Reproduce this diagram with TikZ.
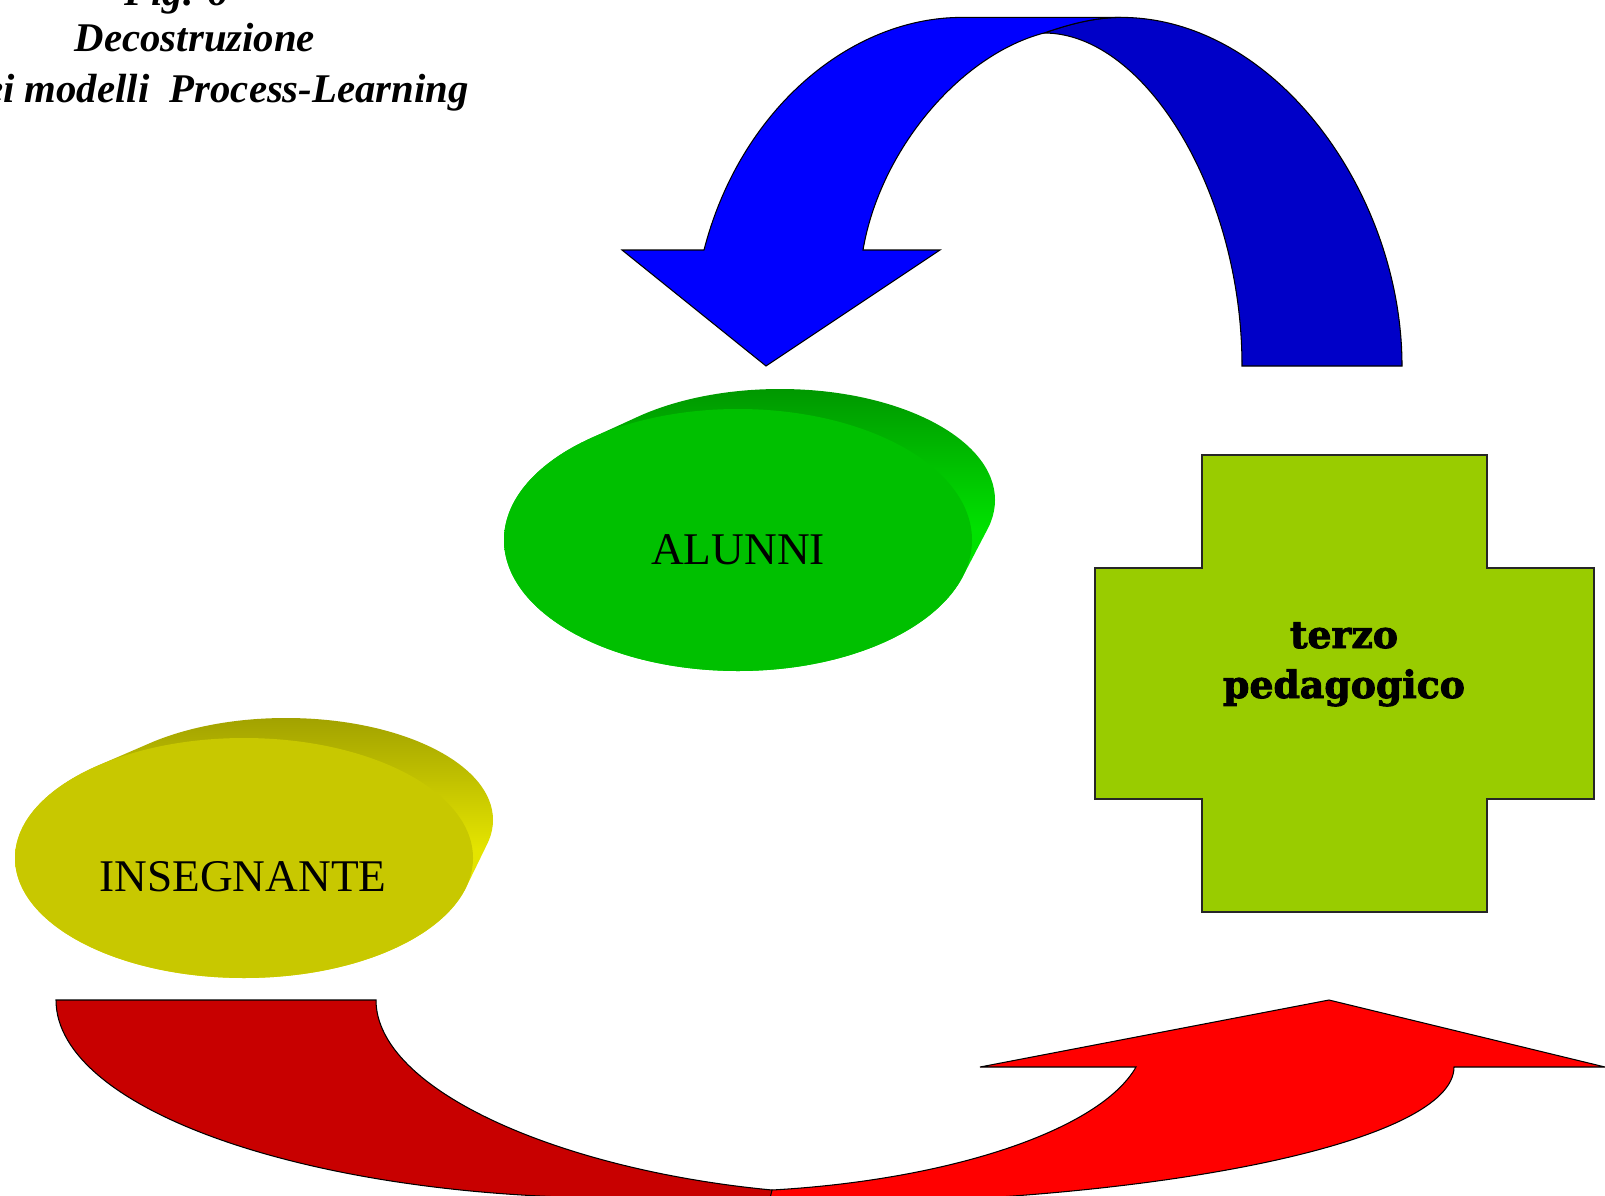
\documentclass[tikz,border=0pt]{standalone}
\usepackage{fontspec}
\setmainfont{Liberation Serif}
\newfontfamily\crossfont{DejaVu Serif}[BoldFont={DejaVu Serif Bold},BoldFeatures={FakeBold=2.5}]
\definecolor{bluebright}{RGB}{0,0,255}
\definecolor{bluedark}{RGB}{0,0,200}
\definecolor{redbright}{RGB}{255,0,0}
\definecolor{reddark}{RGB}{200,0,0}
\definecolor{crossgreen}{RGB}{153,204,0}
\definecolor{alunnifront}{RGB}{0,192,0}
\definecolor{alunnidark}{RGB}{0,150,0}
\definecolor{alunnilight}{RGB}{0,226,0}
\definecolor{insfront}{RGB}{200,200,0}
\definecolor{insdark}{RGB}{160,160,0}
\definecolor{inslight}{RGB}{228,228,0}
\begin{document}
\begin{tikzpicture}[x=0.02cm,y=-0.02cm,
  band/.style={draw=black,line width=0.6pt,line join=miter},
  crossbox/.style={fill=crossgreen,draw=black!85,line width=0.9pt},
  titletext/.style={font=\fontsize{23.2}{28}\selectfont\bfseries\itshape,inner sep=0pt},
  disclabel/.style={font=\fontsize{25.8}{30}\selectfont,inner sep=0pt},
  crosslabel/.style={font=\crossfont\bfseries\fontsize{21.5}{28}\selectfont,inner sep=0pt}]
\useasboundingbox (0,0) rectangle (1605,1196);
\clip (0,0) rectangle (1605,1196);
\fill[white] (0,0) rectangle (1605,1196);

% title
\node[titletext,anchor=base] (fig) at (176,6) {Fig. 6};
\node[titletext,anchor=base] (decos) at (195,52) {Decostruzione};
\node[titletext,anchor=base east] (modelli) at (469,103) {dei modelli~~Process-Learning};

% blue curved arrow
\draw[band,fill=bluedark] (1121,17.4) .. controls (1274,17.4) and (1402,192) .. (1402,366)
  -- (1242,366) .. controls (1242,192) and (1145,33) .. (1044,33)
  .. controls (1070,24) and (1095,17.4) .. (1121,17.4) -- cycle;
\draw[band,fill=bluebright] (962,17.4) -- (1121,17.4) .. controls (1095,17.4) and (1070,24) .. (1044,33)
  .. controls (960,55) and (880,150) .. (863,250) -- (940,250) -- (766,366) -- (622,250) -- (704,250)
  .. controls (740,110) and (850,17.4) .. (962,17.4) -- cycle;

% ALUNNI disc
\begin{scope}
  \clip foreach \k in {0,1,...,20} {({738+2.1*\k},{540-2*\k}) ellipse [x radius={234-0.95*\k}, y radius={131-\k}]};
  \shade[top color=alunnidark,bottom color=alunnilight,middle color=alunnilight] (500,385) rectangle (1000,675);
\end{scope}
\fill[alunnifront] (738,540) ellipse[x radius=234,y radius=131];
\node[disclabel] (alunni) at (738,550) {ALUNNI};

% INSEGNANTE disc
\begin{scope}
  \clip foreach \k in {0,1,...,20} {({244+2.1*\k},{858-1.9*\k}) ellipse [x radius={229-1.1*\k}, y radius={120-0.9*\k}]};
  \shade[top color=insdark,bottom color=inslight,middle color=inslight] (10,714) rectangle (498,982);
\end{scope}
\fill[insfront] (244,858) ellipse[x radius=229,y radius=120];
\node[disclabel] (insegnante) at (243,877) {INSEGNANTE};

% cross
\draw[crossbox] (1202,455) -- (1487,455) -- (1487,568) -- (1594,568) -- (1594,799) -- (1487,799)
  -- (1487,912) -- (1202,912) -- (1202,799) -- (1095,799) -- (1095,568) -- (1202,568) -- cycle;
\node[crosslabel,anchor=base] (terzo) at (1344,648) {terzo};
\node[crosslabel,anchor=base] (pedagogico) at (1344,698) {pedagogico};

% red curved arrow
\draw[band,fill=reddark] (56,1000) -- (376,1000) .. controls (376,1090) and (560,1170) .. (772,1190)
  -- (780,1240) -- (620,1240) -- (620,1198) .. controls (308,1198) and (56,1109) .. (56,1000) -- cycle;
\draw[band,fill=redbright] (772,1190) .. controls (950,1180) and (1100,1130) .. (1136,1067)
  -- (980,1067) -- (1329,1000) -- (1605,1067) -- (1454,1067)
  .. controls (1454,1142) and (1157,1204) .. (790,1204) -- (760,1240) -- cycle;
\end{tikzpicture}
\end{document}
